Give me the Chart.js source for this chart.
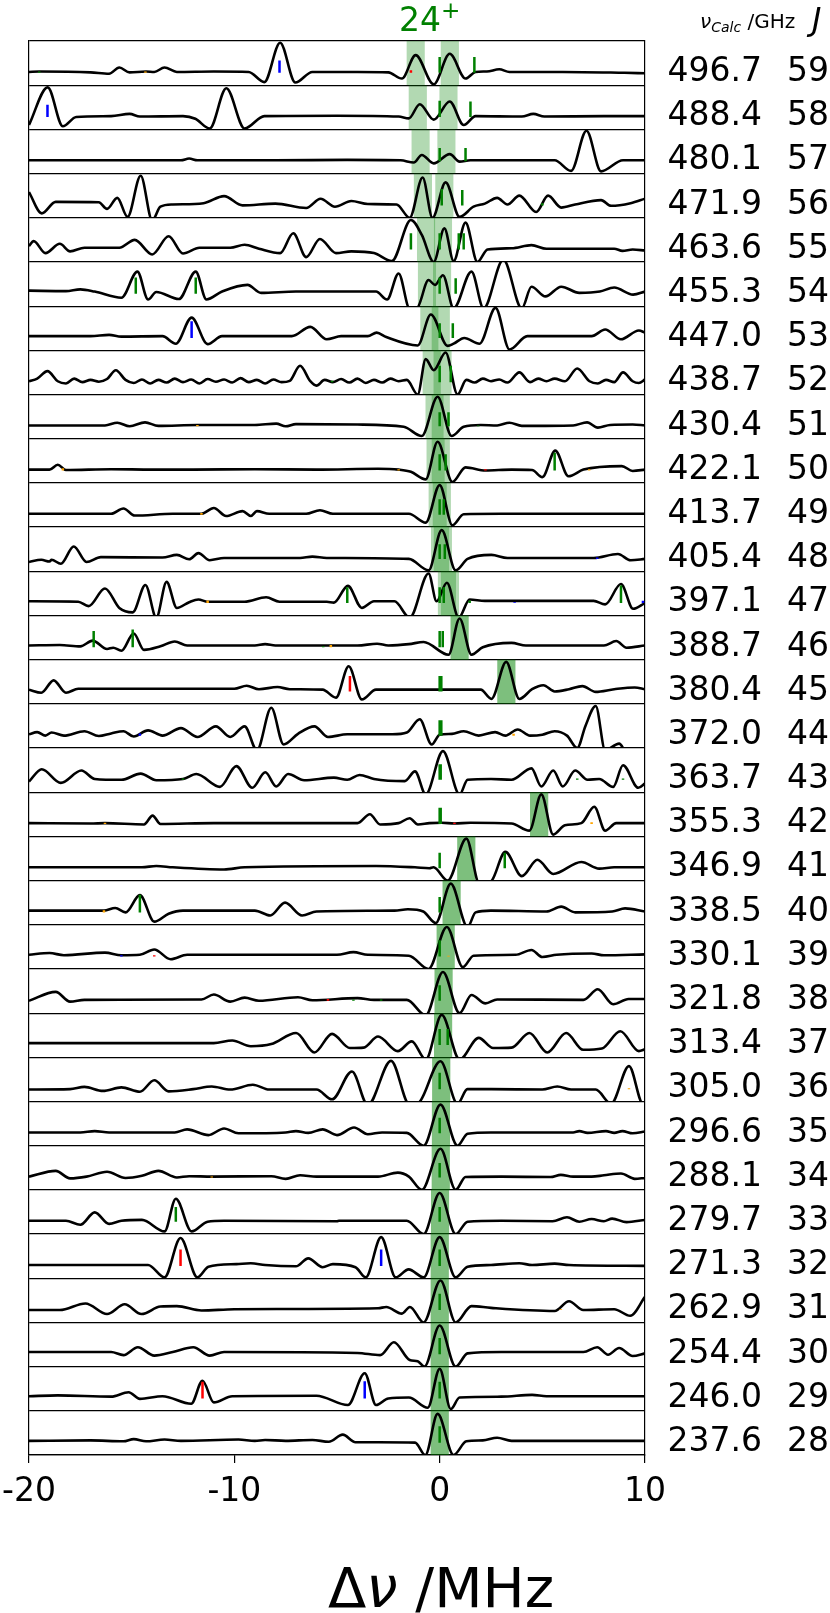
<!DOCTYPE html>
<html><head><meta charset="utf-8">
<script src="https://cdn.jsdelivr.net/npm/chart.js@4.4.0/dist/chart.umd.min.js"></script>
<style>
html,body{margin:0;padding:0;background:#fff;}
#wrap{position:relative;width:830px;height:1613px;overflow:hidden;font-family:"DejaVu Sans",sans-serif;}
canvas{position:absolute;left:0;top:0;}
.lbl{position:absolute;font-size:33px;line-height:33px;color:#000;white-space:nowrap;}
sub{font-size:0.7em;vertical-align:-0.25em;line-height:0;}
sup{font-size:0.7em;vertical-align:0.55em;line-height:0;}
</style></head><body><div id="wrap"><canvas id="c" width="830" height="1613"></canvas></div>
<script>
// ---- panels (top to bottom) ----
const J_LIST = [59,58,57,56,55,54,53,52,51,50,49,48,47,46,45,44,43,42,41,40,39,38,37,36,35,34,33,32,31,30,29,28];
const FREQ = ["496.7","488.4","480.1","471.9","463.6","455.3","447.0","438.7","430.4","422.1","413.7","405.4","397.1","388.7","380.4","372.0","363.7","355.3","346.9","338.5","330.1","321.8","313.4","305.0","296.6","288.1","279.7","271.3","262.9","254.4","246.0","237.6"];
const X_TICKS = [-20,-10,0,10];
// shaded assignment windows (centre, MHz) – two per panel
const bandA = [-1.17,-1.07,-0.93,-0.82,-0.66,-0.62,-0.5,-0.39,-0.25,-0.2,-0.1,0.02,0.35,0.97,3.25,null,null,4.85,1.3,0.58,0.29,0.19,0.17,0.08,0.06,0.05,0.02,0,0,0,0,0];
const bandB = [0.49,0.43,0.33,0.23,0.16,0.12,0.05,0.14,0.05,0.05,0.1,0.15,0.5,0.97,3.25,null,null,4.85,1.3,0.58,0.29,0.19,0.17,0.08,0.06,0.05,0.02,0,0,0,0,0];
const BAND_W = 0.9;

// ---- spectra: [offset MHz, normalised intensity within panel] ----
const s59=[[-20,0.3],[-19.5,0.31],[-17,0.29],[-16.1,0.26],[-15.6,0.4],[-15.1,0.29],[-14.3,0.31],[-13.9,0.3],[-13.4,0.4],[-12.8,0.3],[-11,0.31],[-9.3,0.3],[-8.54,0.07],[-7.77,0.96],[-7.03,0.06],[-6.2,0.3],[-4,0.3],[-2.5,0.29],[-1.84,0.15],[-1.17,0.68],[-0.29,0.02],[0.49,0.71],[1.26,0.15],[1.75,0.3],[2.3,0.31],[2.9,0.36],[3.4,0.3],[6,0.3],[9,0.28],[10,0.27]];
const s58=[[-20,0.1],[-19.09,0.95],[-18.35,0.07],[-17.7,0.28],[-16,0.3],[-15.1,0.35],[-14.6,0.29],[-12.5,0.3],[-11.9,0.24],[-11.2,0.02],[-10.39,0.93],[-9.5,0.02],[-8.54,0.3],[-5,0.31],[-2,0.29],[-1.5,0.25],[-0.97,0.57],[-0.29,0.22],[0.49,0.63],[1.17,0.1],[1.75,0.3],[4,0.29],[4.56,0.35],[5.1,0.29],[8,0.3],[10,0.3]];
const s57=[[-20,0.3],[-12.6,0.3],[-12.2,0.34],[-11.8,0.3],[-8,0.3],[-4.5,0.31],[-1.9,0.3],[-1.26,0.25],[-0.87,0.42],[-0.29,0.23],[0.49,0.44],[0.97,0.27],[1.5,0.3],[5.6,0.3],[6.4,0.06],[7.15,0.97],[7.86,0.05],[8.93,0.3],[10,0.3]];
const s56=[[-20,0.58],[-19.38,0.1],[-18.7,0.36],[-16.6,0.35],[-16.2,0.2],[-15.7,0.45],[-15.2,0.02],[-14.56,0.95],[-14.0,-0.06],[-13.6,0.25],[-13.0,0.3],[-11.5,0.33],[-10.5,0.49],[-9.6,0.28],[-8,0.32],[-6.5,0.22],[-5.8,0.43],[-5.1,0.25],[-4.3,0.38],[-3.5,0.31],[-2.1,0.3],[-1.46,0.0],[-0.83,0.91],[-0.35,0.0],[0.29,0.8],[0.97,0.02],[1.65,0.25],[2.2,0.32],[2.8,0.45],[3.3,0.3],[3.88,0.5],[4.7,0.13],[5.28,0.5],[5.92,0.23],[6.6,0.3],[7.86,0.4],[8.35,0.27],[9.3,0.33],[10,0.43]];
const s55=[[-20,0.36],[-19.77,0.47],[-19.2,0.2],[-18.5,0.41],[-18,0.24],[-17.3,0.32],[-15.6,0.32],[-14.85,0.5],[-14.0,0.17],[-13.2,0.58],[-12.5,0.19],[-11.7,0.32],[-10.2,0.32],[-9.5,0.39],[-8.8,0.3],[-7.77,0.2],[-7.13,0.65],[-6.5,0.11],[-5.83,0.52],[-5.05,0.2],[-4.3,0.24],[-3.2,0.2],[-2.33,0.02],[-1.4,0.95],[-0.87,0.61],[-0.29,0.0],[0.23,0.76],[0.68,0.02],[1.26,0.89],[1.84,0.0],[2.33,0.28],[3.5,0.31],[4.47,0.38],[5.2,0.3],[8.5,0.3],[8.9,0.25],[9.4,0.28],[10,0.26]];
const s54=[[-20,0.35],[-18.2,0.34],[-17.5,0.38],[-16.8,0.33],[-15.5,0.19],[-14.72,0.78],[-14.2,0.15],[-13.8,0.32],[-12.7,0.16],[-11.88,0.78],[-11.36,0.15],[-10.6,0.33],[-9.36,0.48],[-8.7,0.3],[-7,0.33],[-3.1,0.33],[-2.56,0.15],[-2.0,0.74],[-1.46,-0.06],[-1.1,-0.04],[-0.54,0.59],[-0.23,0.48],[0.16,0.7],[0.68,-0.05],[1.55,0.78],[2.14,-0.05],[3.1,1.05],[4.0,-0.05],[4.47,0.44],[5.15,0.22],[5.92,0.44],[6.8,0.3],[7.8,0.33],[8.5,0.42],[9.42,0.26],[10,0.33]];
const s53=[[-20,0.32],[-17,0.32],[-16.1,0.35],[-15.5,0.31],[-13.5,0.32],[-12.85,0.15],[-12.08,0.74],[-11.3,0.14],[-10.6,0.32],[-7.2,0.32],[-6.3,0.53],[-5.5,0.25],[-4.8,0.32],[-3.5,0.32],[-3.07,0.4],[-2.6,0.3],[-1.07,0.11],[-0.43,0.81],[0.39,0.1],[0.68,0.15],[1.2,0.28],[1.94,0.15],[2.72,0.96],[3.4,0.02],[4.27,0.32],[7.4,0.32],[8.06,0.47],[8.83,0.25],[9.7,0.45],[10,0.4]];
const s52=[[-20,0.3],[-19.6,0.36],[-19.1,0.53],[-18.6,0.3],[-18.2,0.25],[-17.8,0.36],[-17.4,0.28],[-17.0,0.33],[-16.6,0.29],[-16.2,0.35],[-15.77,0.55],[-15.3,0.33],[-14.9,0.26],[-14.5,0.34],[-14.1,0.25],[-13.7,0.33],[-13.3,0.27],[-12.9,0.36],[-12.5,0.28],[-12.1,0.34],[-11.7,0.25],[-11.3,0.35],[-10.9,0.29],[-10.5,0.34],[-10.1,0.27],[-9.7,0.37],[-9.3,0.28],[-8.9,0.33],[-8.5,0.25],[-8.1,0.34],[-7.7,0.28],[-7.3,0.31],[-6.8,0.65],[-6.3,0.3],[-6.0,0.2],[-5.6,0.33],[-5.2,0.28],[-4.8,0.35],[-4.4,0.27],[-4.0,0.36],[-3.6,0.26],[-3.2,0.33],[-2.8,0.27],[-2.4,0.36],[-2.0,0.3],[-1.6,0.33],[-1.07,0.0],[-0.68,0.8],[-0.29,0.55],[0.29,0.95],[0.87,0.0],[1.3,0.33],[1.7,0.27],[2.1,0.36],[2.5,0.3],[2.9,0.34],[3.3,0.27],[3.88,0.5],[4.4,0.28],[4.8,0.36],[5.2,0.3],[5.6,0.36],[6.1,0.3],[6.7,0.59],[7.3,0.3],[7.7,0.25],[8.1,0.33],[8.5,0.28],[8.93,0.5],[9.4,0.3],[9.7,0.26],[10,0.34]];
const s51=[[-20,0.3],[-16.3,0.3],[-15.7,0.36],[-15.1,0.28],[-14.35,0.37],[-13.7,0.29],[-11.8,0.31],[-9,0.31],[-7.96,0.34],[-7.5,0.28],[-7.0,0.33],[-4,0.32],[-1.75,0.27],[-0.87,0.06],[-0.1,0.95],[0.58,0.06],[1.17,0.27],[2,0.31],[2.8,0.3],[3.4,0.36],[4,0.29],[6.5,0.3],[7.18,0.37],[7.7,0.25],[8.3,0.31],[9.4,0.32],[10,0.3]];
const s50=[[-20,0.3],[-19,0.3],[-18.6,0.41],[-18.2,0.29],[-16,0.31],[-14,0.3],[-12,0.3],[-9,0.31],[-6,0.3],[-3,0.32],[-2,0.3],[-1.4,0.25],[-0.68,0.08],[-0.1,0.93],[0.62,0.02],[1.26,0.35],[2.23,0.28],[3.5,0.3],[4.5,0.29],[5.0,0.13],[5.63,0.73],[6.27,0.15],[7.0,0.3],[8.87,0.38],[9.4,0.27],[10,0.3]];
const s49=[[-20,0.3],[-16,0.3],[-15.4,0.42],[-14.85,0.26],[-13,0.3],[-11.6,0.3],[-11.0,0.43],[-10.4,0.25],[-9.6,0.36],[-9.2,0.25],[-8.9,0.36],[-8.3,0.3],[-6.5,0.3],[-5.83,0.38],[-5.2,0.3],[-1.5,0.3],[-0.68,0.1],[0.0,0.95],[0.62,0.04],[1.17,0.29],[3,0.3],[10,0.3]];
const s48=[[-20,0.21],[-19.4,0.26],[-19,0.22],[-18.9,0.26],[-18.45,0.17],[-17.82,0.56],[-17.2,0.21],[-16.5,0.32],[-13.5,0.31],[-12.8,0.37],[-12.2,0.27],[-11.75,0.41],[-11.2,0.25],[-10.5,0.3],[-6.8,0.3],[-6.2,0.33],[-5.5,0.3],[-1.5,0.28],[-0.54,0.02],[0.1,0.93],[0.78,0.02],[1.36,0.28],[2.52,0.37],[3.3,0.3],[7.5,0.3],[8.68,0.39],[9.3,0.25],[10,0.28]];
const s47=[[-20,0.32],[-17.6,0.31],[-17.1,0.21],[-16.3,0.61],[-15.6,0.17],[-14.95,0.07],[-14.33,0.69],[-13.8,-0.05],[-13.3,0.76],[-12.8,0.17],[-12.2,0.3],[-11.75,0.36],[-11.3,0.31],[-9.5,0.31],[-8.45,0.41],[-7.8,0.31],[-5.5,0.31],[-5.15,0.29],[-4.47,0.67],[-3.79,0.17],[-3.2,0.32],[-2.2,0.32],[-1.46,-0.05],[-0.54,0.95],[-0.15,0.32],[0.35,0.74],[0.93,-0.05],[1.46,0.36],[2.2,0.33],[7.5,0.33],[8.06,0.25],[8.83,0.71],[9.42,0.15],[10,0.28]];
const s46=[[-20,0.32],[-18.5,0.33],[-17.5,0.3],[-16.9,0.43],[-16.2,0.24],[-15.9,0.27],[-15.5,0.2],[-14.9,0.59],[-14.4,0.22],[-13.6,0.3],[-12.9,0.41],[-12.3,0.32],[-9,0.32],[-8.5,0.35],[-8,0.32],[-4,0.32],[-3.05,0.36],[-2.5,0.32],[-1.5,0.35],[-0.78,0.4],[0.43,0.11],[0.97,0.93],[1.55,0.11],[2.1,0.28],[3.5,0.38],[4.2,0.32],[8,0.32],[8.6,0.42],[9.1,0.27],[10,0.32]];
const s45=[[-20,0.32],[-19.4,0.25],[-18.8,0.53],[-18.2,0.25],[-17.6,0.34],[-10,0.34],[-9.4,0.41],[-8.8,0.33],[-7.9,0.38],[-7.3,0.33],[-5.7,0.32],[-5.05,0.14],[-4.43,0.85],[-3.79,0.1],[-3.1,0.32],[2.0,0.32],[2.52,0.11],[3.24,0.95],[3.88,0.11],[4.5,0.33],[5.05,0.42],[5.6,0.28],[6.3,0.33],[6.95,0.4],[7.6,0.27],[8.5,0.33],[9.5,0.37],[10,0.33]];
const s44=[[-20,0.31],[-19.6,0.36],[-19.2,0.28],[-18.9,0.35],[-18.3,0.28],[-17.3,0.38],[-16.6,0.27],[-16.0,0.33],[-15.4,0.38],[-14.9,0.26],[-14.2,0.4],[-13.5,0.28],[-12.6,0.45],[-11.8,0.25],[-10.9,0.49],[-10.2,0.25],[-9.5,0.49],[-8.9,-0.05],[-8.2,0.91],[-7.6,0.08],[-6.9,0.32],[-6.1,0.49],[-5.44,0.25],[-4.5,0.31],[-2.3,0.31],[-1.6,0.35],[-0.97,0.65],[-0.39,0.08],[0.0,0.3],[0.6,0.32],[1.17,0.38],[1.9,0.28],[2.7,0.36],[3.2,0.28],[3.8,0.42],[4.4,0.28],[5.0,0.3],[5.6,0.38],[6.2,0.28],[6.7,0.0],[7.1,0.5],[7.6,0.95],[8.06,-0.05],[8.74,0.1],[9.1,-0.1],[10,-0.15]];
const s43=[[-20,0.24],[-19.38,0.52],[-18.45,0.21],[-17.45,0.49],[-16.8,0.3],[-15.5,0.28],[-14.56,0.42],[-13.8,0.27],[-12.5,0.3],[-11.85,0.41],[-10.7,0.12],[-9.9,0.59],[-9.13,0.1],[-8.49,0.45],[-7.96,0.13],[-7.38,0.41],[-6.6,0.27],[-5.15,0.33],[-4.5,0.28],[-3.9,0.39],[-3.2,0.3],[-1.7,0.25],[-1.2,0.47],[-0.68,-0.05],[0.16,0.93],[0.97,-0.05],[1.36,0.28],[2.5,0.3],[3.5,0.28],[4.47,0.54],[4.95,0.13],[5.53,0.49],[6.0,0.13],[6.6,0.49],[7.2,0.28],[7.77,0.3],[8.45,0.12],[8.93,0.61],[9.67,0.1],[10,0.2]];
const s42=[[-20,0.3],[-17,0.29],[-16.3,0.3],[-14.4,0.27],[-13.98,0.47],[-13.6,0.28],[-11,0.3],[-8,0.3],[-4,0.3],[-3.4,0.5],[-2.9,0.27],[-2,0.3],[-1.46,0.41],[-1.06,0.27],[-0.5,0.3],[0.1,0.31],[0.72,0.29],[1.5,0.31],[3.5,0.29],[4.37,0.13],[4.95,0.95],[5.53,0.04],[6.1,0.25],[6.9,0.3],[7.53,0.67],[8.06,0.13],[8.6,0.3],[10,0.3]];
const s41=[[-20,0.3],[-14.5,0.3],[-13.8,0.33],[-13,0.3],[-10.5,0.25],[-9.5,0.3],[-3.1,0.33],[-1.2,0.3],[-0.5,0.28],[-0.3,0.3],[0.39,0.0],[1.3,0.95],[1.94,-0.08],[2.5,-0.02],[3.2,0.65],[4.0,0.1],[4.76,0.47],[5.53,0.15],[6.9,0.42],[7.77,0.27],[8.5,0.3],[10,0.3]];
const s40=[[-20,0.32],[-16.35,0.32],[-15.8,0.38],[-15.3,0.28],[-14.6,0.67],[-13.9,0.07],[-13.2,0.25],[-12.5,0.32],[-9,0.32],[-8.25,0.21],[-7.53,0.5],[-6.7,0.21],[-6,0.3],[-2.2,0.32],[-1.55,0.35],[-0.8,0.3],[-0.19,0.04],[0.54,0.93],[1.36,-0.05],[1.75,0.28],[2.5,0.32],[5.2,0.3],[5.92,0.41],[6.6,0.28],[8.4,0.3],[9.03,0.37],[10,0.3]];
const s39=[[-20,0.32],[-19,0.36],[-18.3,0.31],[-16.3,0.37],[-15.5,0.31],[-14.6,0.32],[-13.9,0.44],[-13.1,0.22],[-12.3,0.32],[-5,0.32],[-4.2,0.38],[-3.5,0.32],[-1.5,0.3],[-0.54,0.0],[0.35,0.95],[1.13,0.04],[1.65,0.3],[3.7,0.32],[4.47,0.43],[5.0,0.27],[5.7,0.32],[7.4,0.35],[8,0.31],[10,0.33]];
const s38=[[-20,0.28],[-18.7,0.48],[-18.0,0.26],[-17.3,0.3],[-11.6,0.31],[-11.0,0.42],[-10.2,0.26],[-9.5,0.35],[-8.8,0.28],[-6.9,0.36],[-6.2,0.29],[-4.0,0.34],[-3.2,0.3],[-1.6,0.3],[-0.68,-0.05],[0.16,0.93],[0.97,0.0],[1.55,0.41],[2.23,0.22],[2.8,0.31],[7.0,0.3],[7.7,0.54],[8.45,0.2],[9.2,0.32],[10,0.32]];
const s37=[[-20,0.32],[-11,0.32],[-10.1,0.38],[-9.2,0.25],[-8.2,0.3],[-6.99,0.55],[-6.1,0.11],[-5.24,0.53],[-4.37,0.21],[-3.7,0.22],[-3.0,0.47],[-2.04,0.14],[-1.36,0.36],[-0.68,-0.05],[0.1,0.96],[0.97,-0.05],[1.9,0.44],[2.6,0.21],[3.5,0.22],[4.37,0.55],[5.24,0.11],[6.16,0.55],[6.99,0.17],[7.9,0.2],[8.8,0.59],[9.7,0.14],[10,0.18]];
const s36=[[-20,0.27],[-18,0.28],[-17.3,0.33],[-16.4,0.24],[-15.5,0.32],[-14.6,0.22],[-13.9,0.48],[-13.2,0.23],[-12,0.28],[-11.1,0.34],[-10.2,0.27],[-9.1,0.38],[-8.3,0.27],[-6,0.27],[-5.24,0.05],[-4.27,0.68],[-3.5,-0.08],[-2.37,0.92],[-1.46,-0.08],[-1.0,-0.02],[0.04,0.91],[0.87,-0.05],[1.35,0.28],[2.5,0.28],[5.0,0.27],[5.73,0.34],[6.4,0.27],[7.6,0.27],[8.35,-0.05],[9.22,0.8],[9.9,-0.05],[10,-0.05]];
const s35=[[-20,0.3],[-17.5,0.3],[-16.8,0.33],[-16.1,0.3],[-12.9,0.3],[-12.3,0.37],[-11.26,0.24],[-10.5,0.39],[-9.8,0.28],[-7.5,0.3],[-7.0,0.33],[-6.4,0.29],[-5.7,0.37],[-5.0,0.24],[-4.17,0.41],[-3.5,0.26],[-2.8,0.3],[-1.6,0.29],[-0.78,0.0],[0.04,0.93],[0.87,0.0],[1.36,0.27],[2.5,0.3],[6.5,0.3],[6.8,0.33],[7.2,0.29],[8.1,0.33],[8.5,0.29],[8.9,0.33],[9.4,0.28],[10,0.32]];
const s34=[[-20,0.3],[-18.7,0.43],[-18.0,0.26],[-17.2,0.3],[-16.2,0.41],[-15.3,0.27],[-14.5,0.32],[-13.7,0.43],[-12.8,0.28],[-12.2,0.31],[-11.1,0.3],[-8.2,0.31],[-7.5,0.25],[-6.8,0.33],[-6.0,0.3],[-3,0.3],[-2.04,0.39],[-1.5,0.3],[-0.87,0.0],[0.04,0.93],[0.78,0.0],[1.26,0.29],[3,0.3],[5.4,0.29],[5.9,0.34],[6.5,0.3],[7.4,0.3],[8.0,0.33],[8.83,0.37],[9.5,0.25],[10,0.27]];
const s33=[[-20,0.3],[-18.2,0.3],[-17.5,0.21],[-16.8,0.49],[-16.1,0.23],[-15.5,0.3],[-14.5,0.32],[-13.4,0.06],[-12.85,0.8],[-12.08,0.06],[-11.3,0.28],[-10.5,0.3],[-5,0.29],[-4.9,0.3],[-1.6,0.3],[-0.78,0.0],[0.0,0.93],[0.78,0.0],[1.36,0.28],[3,0.3],[5.5,0.29],[6.2,0.38],[6.8,0.28],[7.4,0.34],[8.0,0.29],[8.4,0.35],[9.1,0.27],[10,0.32]];
const s32=[[-20,0.3],[-14.2,0.3],[-13.4,0.02],[-12.62,0.91],[-11.8,0.02],[-11.26,0.26],[-9.9,0.32],[-9.2,0.34],[-8.5,0.3],[-7.0,0.27],[-6.4,0.45],[-5.7,0.25],[-5.2,0.32],[-4.1,0.25],[-3.6,0.02],[-2.85,0.93],[-2.14,0.02],[-1.51,0.2],[-0.78,0.02],[0.0,0.93],[0.78,0.02],[1.36,0.26],[2.5,0.3],[3.88,0.34],[4.5,0.3],[5.6,0.33],[6.3,0.3],[10,0.28]];
const s31=[[-20,0.28],[-18.5,0.28],[-17.25,0.43],[-16.2,0.19],[-15.34,0.41],[-14.52,0.19],[-13.6,0.36],[-12.8,0.37],[-11.6,0.27],[-10,0.3],[-3,0.32],[-2.6,0.35],[-1.84,0.2],[-1.45,0.35],[-0.78,0.0],[0.04,0.95],[0.78,0.0],[1.55,0.37],[2.5,0.33],[5.6,0.26],[6.3,0.48],[6.99,0.28],[8.5,0.3],[9.28,0.15],[10,0.58]];
const s30=[[-20,0.33],[-16,0.33],[-15.4,0.26],[-14.7,0.44],[-13.9,0.25],[-13.0,0.33],[-12.0,0.44],[-11.2,0.25],[-10.5,0.33],[-4,0.31],[-2.9,0.26],[-2.23,0.55],[-1.46,0.15],[-1.07,0.12],[-0.74,0.0],[0.0,0.93],[0.78,0.0],[1.36,0.3],[3,0.33],[7.0,0.33],[7.67,0.44],[8.2,0.27],[8.74,0.42],[9.4,0.24],[10,0.3]];
const s29=[[-20,0.33],[-18.6,0.35],[-16,0.32],[-15.15,0.42],[-14.6,0.27],[-13.5,0.33],[-12.1,0.16],[-11.55,0.68],[-11.0,0.19],[-10.1,0.33],[-6,0.34],[-4.47,0.13],[-3.65,0.85],[-3.1,0.13],[-2.5,0.28],[-1.5,0.3],[-0.58,0.07],[0.0,0.95],[0.54,0.04],[0.97,0.3],[3,0.32],[4.5,0.36],[5.2,0.33],[10,0.33]];
const s28=[[-20,0.32],[-17,0.33],[-15.4,0.31],[-14.9,0.36],[-14.3,0.31],[-13.4,0.35],[-12.6,0.32],[-9.8,0.35],[-9.0,0.32],[-8.5,0.34],[-7.5,0.32],[-6.2,0.34],[-5.4,0.3],[-4.72,0.46],[-4.1,0.29],[-1.2,0.28],[-0.7,0.0],[-0.1,0.93],[0.68,0.0],[1.3,0.31],[2.1,0.33],[2.8,0.39],[3.5,0.32],[10,0.32]];
const SPECTRA = [s59,s58,s57,s56,s55,s54,s53,s52,s51,s50,s49,s48,s47,s46,s45,s44,s43,s42,s41,s40,s39,s38,s37,s36,s35,s34,s33,s32,s31,s30,s29,s28];

// ---- predicted line positions: [J, offset MHz, stick length] ----
const greenSticks=[[59,0,0.36],[59,1.69,0.36],[59,-19.5,0.03],[58,0,0.37],[58,1.5,0.35],[57,0,0.3],[57,1.26,0.3],[56,0.1,0.37],[56,1.1,0.35],[56,5.0,0.05],[55,-1.4,0.37],[55,0,0.37],[55,0.93,0.37],[55,1.17,0.37],[54,-14.8,0.37],[54,-11.88,0.37],[54,0,0.37],[54,0.78,0.35],[53,0,0.33],[53,0.64,0.33],[52,0,0.37],[52,0.54,0.37],[52,-5.24,0.03],[51,0,0.32],[51,0.43,0.32],[51,1.88,0.02],[50,0,0.37],[50,0.29,0.37],[50,5.6,0.4],[49,0,0.35],[49,0.2,0.35],[48,0,0.33],[48,0.25,0.33],[47,-4.5,0.36],[47,0,0.36],[47,0.2,0.36],[47,1.46,0.06],[47,8.83,0.4],[46,-16.85,0.37],[46,-14.95,0.4],[46,0,0.37],[46,0.15,0.37],[46,-5.67,0.02],[45,0,0.35],[45,0.08,0.35],[44,0,0.35],[44,0.08,0.35],[43,0,0.35],[43,0.05,0.35],[43,-12.5,0.03],[43,6.7,0.03],[43,8.93,0.03],[42,0,0.37],[42,0.05,0.37],[41,0,0.35],[41,3.17,0.35],[40,-14.6,0.4],[40,0,0.35],[39,0,0.37],[38,0,0.35],[38,-4.2,0.03],[38,-2.85,0.03],[37,0,0.36],[37,0.39,0.36],[36,0,0.37],[35,0,0.35],[34,0,0.33],[33,-12.85,0.33],[33,0,0.33],[32,0,0.37],[31,0,0.37],[30,0,0.37],[29,0,0.38],[28,0,0.37]];
const blueSticks=[[59,-7.8,0.28],[58,-19.1,0.28],[53,-12.08,0.38],[48,7.67,0.03],[47,3.65,0.02],[47,9.9,0.05],[44,-14.6,0.05],[39,-15.5,0.03],[32,-2.85,0.37],[29,-3.65,0.39]];
const redSticks=[[59,-1.4,0.06],[50,2.23,0.03],[45,-4.37,0.35],[42,0.72,0.03],[39,-13.9,0.03],[38,-5.44,0.04],[32,-12.62,0.37],[29,-11.55,0.38]];
const orangeSticks=[[59,-14.33,0.03],[51,-11.8,0.03],[50,-18.35,0.05],[50,-2.0,0.03],[50,7.28,0.03],[49,-11.6,0.04],[47,-11.3,0.06],[46,-5.3,0.05],[44,3.6,0.04],[42,-16.3,0.03],[42,7.4,0.04],[40,-16.35,0.05],[39,0.43,0.02],[36,9.22,0.02],[34,-11.1,0.02],[31,5.9,0.02]];

// ---- build datasets ----
const N = J_LIST.length;
const rowOf = j => N - 1 - J_LIST.indexOf(j);
const datasets = [];
J_LIST.forEach((j, i) => {
  const b = N - 1 - i;
  datasets.push({data: SPECTRA[i].map(p => ({x: p[0], y: b + p[1]})), borderColor: '#000', borderWidth: 2.6,
    pointRadius: 0, cubicInterpolationMode: 'monotone', fill: false, order: 2, panel: b});
  [bandA[i], bandB[i]].forEach(c => {
    if (c === null) return;
    datasets.push({data: [{x: c - BAND_W/2, y: b + 1}, {x: c + BAND_W/2, y: b + 1}], borderColor: 'rgba(0,0,0,0)',
      borderWidth: 0, backgroundColor: 'rgba(0,128,0,0.3)', fill: {value: b}, pointRadius: 0, order: 3, panel: b});
  });
});
function stickData(list) {
  const d = [];
  list.forEach(([j, x, h]) => { const b = rowOf(j) + 0.28; d.push({x, y: b}, {x, y: b + h}, {x, y: null}); });
  return d;
}
[[greenSticks,'#008000'],[blueSticks,'#0000ff'],[redSticks,'#ff0000'],[orangeSticks,'#ffa500']].forEach(([l,c]) => {
  datasets.push({data: stickData(l), borderColor: c, borderWidth: 2.5, pointRadius: 0, spanGaps: false, tension: 0, fill: false, order: 1});
});

const panelClip = {
  id: 'panelClip',
  beforeDatasetDraw(chart, args) {
    const ds = chart.data.datasets[args.index];
    if (ds.panel === undefined) return;
    const ys = chart.scales.y, a = chart.chartArea, ctx = chart.ctx;
    const t = ys.getPixelForValue(ds.panel + 1), bt = ys.getPixelForValue(ds.panel);
    ctx.save(); ctx.beginPath(); ctx.rect(a.left, t, a.right - a.left, bt - t); ctx.clip();
  },
  afterDatasetDraw(chart, args) {
    const ds = chart.data.datasets[args.index];
    if (ds.panel === undefined) return;
    chart.ctx.restore();
  }
};

const chart = new Chart(document.getElementById('c'), {
  type: 'line',
  data: {datasets},
  plugins: [panelClip],
  options: {
    responsive: false, animation: false, devicePixelRatio: 1,
    layout: {padding: {left: 29, right: 185, top: 41, bottom: 0}},
    plugins: {legend: {display: false}, tooltip: {enabled: false}},
    scales: {
      x: {type: 'linear', min: -20, max: 10, afterBuildTicks: s => { s.ticks = X_TICKS.map(v => ({value: v})); },
        ticks: {color: '#000', font: {size: 33, family: 'DejaVu Sans'}, padding: 10, maxRotation: 0, autoSkip: false, callback: v => String(v)},
        grid: {drawOnChartArea: false, drawTicks: true, tickLength: 8, color: '#000', lineWidth: 1.2},
        border: {color: '#000', width: 1.2},
        afterFit: s => { s.height = 158; s.paddingLeft = 0; s.paddingRight = 0; }},
      y: {type: 'linear', min: 0, max: 32, z: 1, ticks: {display: false, stepSize: 1},
        grid: {color: '#000', lineWidth: 1.2, drawTicks: false}, border: {color: '#000', width: 1.2},
        afterFit: s => { s.width = 0; s.paddingTop = 0; s.paddingBottom = 0; }},
      y2: {type: 'linear', position: 'right', min: 0, max: 32, z: 1, ticks: {display: false},
        grid: {drawOnChartArea: false, drawTicks: false}, border: {color: '#000', width: 1.2},
        afterFit: s => { s.width = 0; s.paddingTop = 0; s.paddingBottom = 0; }}
    }
  }
});

// ---- text labels ----
const wrap = document.getElementById('wrap');
function addLabel(html, css) {
  const d = document.createElement('div'); d.className = 'lbl'; d.innerHTML = html;
  Object.assign(d.style, css); wrap.appendChild(d); return d;
}
const ys = chart.scales.y;
J_LIST.forEach((j, i) => {
  const cy = ys.getPixelForValue(N - 1 - i + 0.5) + 6;
  addLabel(FREQ[i], {right: (830 - 762) + 'px', top: (cy - 16) + 'px', textAlign: 'right'});
  addLabel(String(j), {left: '787px', top: (cy - 16) + 'px'});
});
addLabel('24<sup>+</sup>', {left: '399px', top: '3px', color: '#008000'});
addLabel('<i>ν</i><sub><i>Calc</i></sub> /GHz', {left: '700px', top: '5px', fontSize: '20px'});
addLabel('<i>J</i>', {left: '812px', top: '3px', fontSize: '32px'});
addLabel('Δ<i>ν</i> /MHz', {left: '0px', width: '882px', textAlign: 'center', top: '1560px', fontSize: '56px', lineHeight: '56px'});
</script></body></html>
